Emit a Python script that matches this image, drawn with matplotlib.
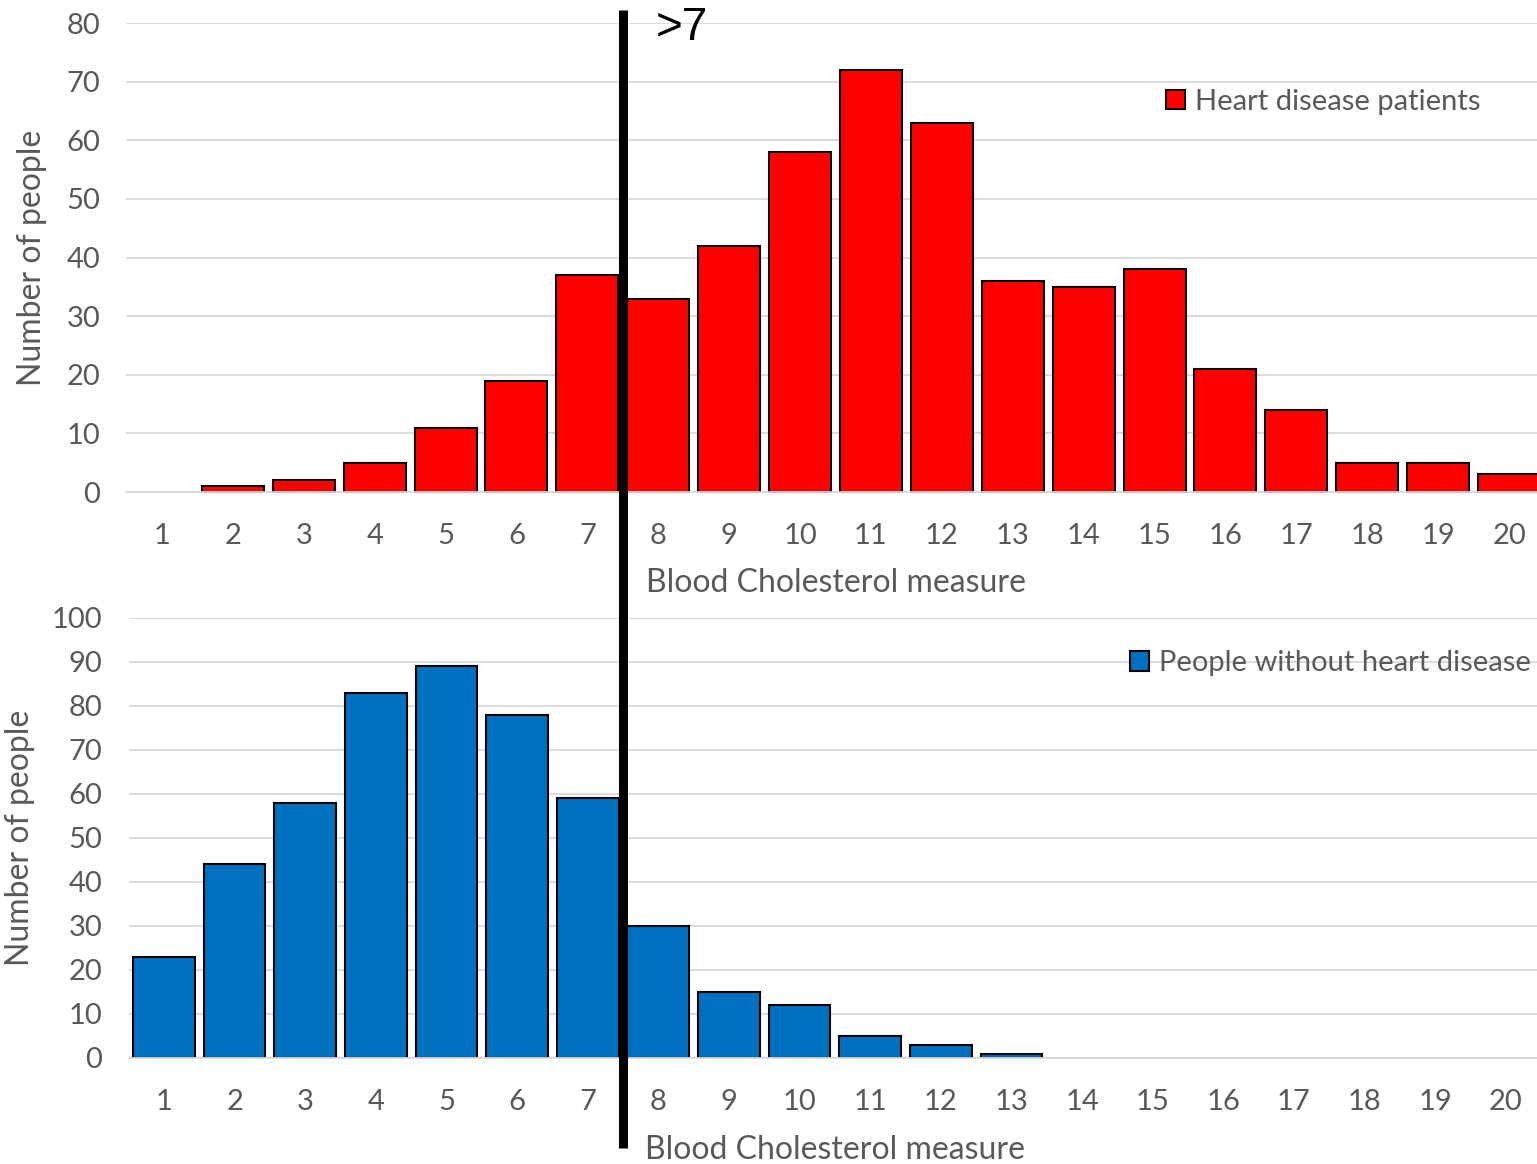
import matplotlib
matplotlib.use("Agg")
import matplotlib.pyplot as plt
from matplotlib.patches import Patch
from matplotlib.lines import Line2D
from matplotlib.transforms import blended_transform_factory

plt.rcParams['font.family'] = ['Lato', 'DejaVu Sans']

# cholesterol measure categories
measure = list(range(1, 21))
# counts per category
heart_disease = [0, 1, 2, 5, 11, 19, 37, 33, 42, 58, 72, 63, 36, 35, 38, 21, 14, 5, 5, 3]
no_disease = [23, 44, 58, 83, 89, 78, 59, 30, 15, 12, 5, 3, 1, 0, 0, 0, 0, 0, 0, 0]
threshold = 7.5

grey_txt = '#595959'
grid_col = '#d9d9d9'
fs = 21
fs_lab = 23

fig = plt.figure(figsize=(15.37, 11.64), dpi=100)
ax1 = fig.add_axes([0.0823, 0.5773, 0.9226, 0.4029])
ax2 = fig.add_axes([0.0837, 0.0911, 0.9190, 0.3780])


def style_axis(ax, ymax, label_x, label_y, xlab_y):
    ax.set_xlim(0.5, 20.5)
    ax.set_ylim(0, ymax)
    ax.set_yticks(range(0, ymax + 1, 10))
    ax.set_xticks(measure)
    ax.tick_params(axis='both', length=0, labelsize=fs, labelcolor=grey_txt)
    ax.tick_params(axis='x', pad=22)
    ax.tick_params(axis='y', pad=19)
    ax.grid(axis='y', color=grid_col, linewidth=1.3)
    ax.set_axisbelow(True)
    for s in ['top', 'right', 'left']:
        ax.spines[s].set_visible(False)
    ax.spines['bottom'].set_color(grid_col)
    ax.spines['bottom'].set_linewidth(1.3)
    ax.set_ylabel('Number of people', fontsize=fs_lab, color=grey_txt)
    ax.yaxis.set_label_coords(label_x, label_y)
    ax.set_xlabel('Blood Cholesterol measure', fontsize=fs_lab, color=grey_txt)
    ax.xaxis.set_label_coords(0.5, xlab_y)
    ax.patch.set_visible(False)


def edges(vals):
    # no outline on empty categories
    return ['black' if v > 0 else 'none' for v in vals]


ax1.bar(measure, heart_disease, width=0.875, color='#ff0000', edgecolor=edges(heart_disease),
        linewidth=1.5, clip_on=False)
style_axis(ax1, 80, -0.056, 0.5, -0.163)
ax1.legend(handles=[Patch(facecolor='#ff0000', edgecolor='black', linewidth=1.5)],
           labels=['Heart disease patients'], loc='center left', bbox_to_anchor=(0.733, 0.832),
           frameon=False, fontsize=fs, labelcolor=grey_txt, borderpad=0, borderaxespad=0,
           handlelength=0.65, handleheight=0.65, handletextpad=0.35)

ax2.bar(measure, no_disease, width=0.875, color='#0070c0', edgecolor=edges(no_disease), linewidth=1.5)
style_axis(ax2, 100, -0.066, 0.5, -0.176)
ax2.legend(handles=[Patch(facecolor='#0070c0', edgecolor='black', linewidth=1.5)],
           labels=['People without heart disease'], loc='center left', bbox_to_anchor=(0.709, 0.897),
           frameon=False, fontsize=fs, labelcolor=grey_txt, borderpad=0, borderaxespad=0,
           handlelength=0.65, handleheight=0.65, handletextpad=0.35)

# threshold line across both panels
tr = blended_transform_factory(ax1.transData, fig.transFigure)
fig.add_artist(Line2D([threshold, threshold], [0.0137, 0.9914], transform=tr,
                      color='black', linewidth=6.5, solid_capstyle='butt'))
fig.text(threshold + 0.46, 0.995, '>7', transform=tr, fontsize=33, color='black',
         family='Liberation Sans', ha='left', va='top')

fig.savefig('out.png', dpi=100)
